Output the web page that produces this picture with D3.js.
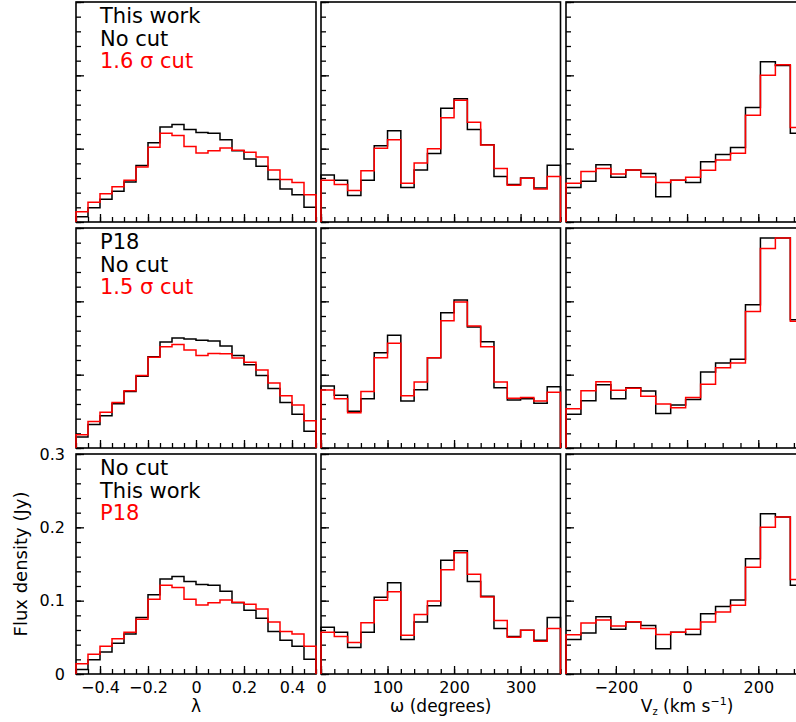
<!DOCTYPE html>
<html lang="en">
<head>
  <meta charset="utf-8">
  <title>Flux density histograms</title>
  <script src="https://d3js.org/d3.v7.min.js"></script>
  <style>
    body { margin: 0; background: #fff; }
    svg { display: block; font-family: "DejaVu Sans", sans-serif; }
  </style>
</head>
<body>
<script>
// bin edges of the three x quantities
var lamEdges = [-0.5, -0.45, -0.4, -0.35, -0.3, -0.25, -0.2, -0.15, -0.1, -0.05, 0,
                0.05, 0.1, 0.15, 0.2, 0.25, 0.3, 0.35, 0.4, 0.45, 0.5];
var omEdges = [0, 20, 40, 60, 80, 100, 120, 140, 160, 180, 200, 220, 240, 260, 280, 300, 320, 340, 360];
var vzEdges = [-340, -298, -256, -214, -172, -130, -88, -46, -4, 38, 80, 122, 164, 206, 248, 290, 332];

// tick labels
var lamTicks = [-0.4, -0.2, 0, 0.2, 0.4];
var omTicks = [0, 100, 200, 300];
var vzTicks = [-200, 0, 200];
var fluxTicks = [0, 0.1, 0.2, 0.3];

// top row : This work, no cut (black) vs 1.6 sigma cut (red)
var lamTwNoCut = [0.007, 0.0195, 0.031, 0.042, 0.0545, 0.077, 0.108, 0.1295, 0.133, 0.126, 0.122, 0.121, 0.112, 0.097, 0.086, 0.076, 0.058, 0.045, 0.037, 0.020];
var lamTwCut   = [0.014, 0.027, 0.0385, 0.048, 0.057, 0.075, 0.102, 0.121, 0.118, 0.103, 0.094, 0.097, 0.101, 0.098, 0.095, 0.0886, 0.071, 0.058, 0.054, 0.037];
var omTwNoCut  = [0.064, 0.057, 0.036, 0.057, 0.104, 0.1245, 0.047, 0.071, 0.0935, 0.155, 0.168, 0.126, 0.1055, 0.062, 0.051, 0.060, 0.0465, 0.0775];
var omTwCut    = [0.057, 0.051, 0.043, 0.070, 0.1005, 0.112, 0.0527, 0.0805, 0.100, 0.142, 0.166, 0.136, 0.105, 0.073, 0.050, 0.0595, 0.045, 0.062];
var vzTwNoCut  = [0.047, 0.0555, 0.078, 0.061, 0.071, 0.066, 0.0345, 0.057, 0.054, 0.082, 0.092, 0.1015, 0.156, 0.2186, 0.2135, 0.121];
var vzTwCut    = [0.053, 0.069, 0.073, 0.0655, 0.071, 0.0615, 0.054, 0.057, 0.061, 0.0705, 0.0845, 0.0936, 0.1455, 0.200, 0.2145, 0.129];

// middle row : P18, no cut (black) vs 1.5 sigma cut (red)
var lamP18NoCut = [0.015, 0.032, 0.044, 0.0605, 0.077, 0.098, 0.1245, 0.1445, 0.150, 0.1486, 0.147, 0.146, 0.139, 0.126, 0.1136, 0.099, 0.081, 0.062, 0.046, 0.023];
var lamP18Cut   = [0.018, 0.036, 0.0486, 0.062, 0.078, 0.099, 0.1236, 0.138, 0.141, 0.1336, 0.126, 0.129, 0.1286, 0.1227, 0.117, 0.1064, 0.0886, 0.0714, 0.0586, 0.037];
var omP18NoCut  = [0.0845, 0.072, 0.050, 0.067, 0.130, 0.1536, 0.064, 0.0795, 0.123, 0.1845, 0.2018, 0.165, 0.145, 0.082, 0.0655, 0.067, 0.061, 0.0836];
var omP18Cut    = [0.079, 0.067, 0.048, 0.077, 0.123, 0.143, 0.0714, 0.090, 0.123, 0.1736, 0.199, 0.1664, 0.138, 0.090, 0.068, 0.069, 0.064, 0.076];
var vzP18NoCut  = [0.046, 0.0645, 0.0864, 0.067, 0.082, 0.0777, 0.047, 0.0586, 0.066, 0.1036, 0.116, 0.121, 0.1955, 0.2864, 0.2864, 0.175];
var vzP18Cut    = [0.0536, 0.078, 0.0905, 0.0786, 0.0814, 0.0705, 0.060, 0.055, 0.069, 0.087, 0.1095, 0.116, 0.186, 0.272, 0.2864, 0.173];

// bottom row : no cut, This work (black) vs P18 (red)
var lamNoCutTw  = [0.006, 0.0195, 0.030, 0.042, 0.0545, 0.077, 0.108, 0.1295, 0.133, 0.126, 0.122, 0.121, 0.113, 0.097, 0.087, 0.076, 0.058, 0.046, 0.038, 0.020];
var lamNoCutP18 = [0.014, 0.027, 0.038, 0.048, 0.057, 0.0745, 0.102, 0.121, 0.118, 0.102, 0.094, 0.097, 0.101, 0.098, 0.095, 0.0886, 0.071, 0.058, 0.0545, 0.038];
var omNoCutTw   = [0.0636, 0.057, 0.036, 0.057, 0.1045, 0.1245, 0.047, 0.071, 0.093, 0.155, 0.168, 0.126, 0.106, 0.062, 0.051, 0.0595, 0.046, 0.077];
var omNoCutP18  = [0.057, 0.051, 0.043, 0.070, 0.1005, 0.112, 0.0527, 0.081, 0.0995, 0.142, 0.1655, 0.136, 0.105, 0.073, 0.050, 0.0595, 0.0445, 0.062];
var vzNoCutTw   = [0.047, 0.056, 0.078, 0.061, 0.071, 0.066, 0.0345, 0.057, 0.054, 0.082, 0.092, 0.101, 0.157, 0.2186, 0.214, 0.121];
var vzNoCutP18  = [0.0536, 0.0695, 0.0736, 0.0655, 0.0714, 0.062, 0.054, 0.057, 0.061, 0.071, 0.0845, 0.0936, 0.1455, 0.200, 0.214, 0.129];

// legend text per row
var rowLabels = [["This work", "No cut", "1.6 σ cut"],
                 ["P18", "No cut", "1.5 σ cut"],
                 ["No cut", "This work", "P18"]];
var labelColors = ["#000", "#000", "#ff0000"];

var w = 796, h = 722;
var colX = [76, 321, 566], colW = [240, 239.5, 240];
var rowY = [2, 228, 454], rowH = 220;

var svg = d3.select("body").append("svg")
  .attr("width", w)
  .attr("height", h);

var xScales = [
  d3.scaleLinear().domain([-0.5, 0.5]).range([colX[0], colX[0] + colW[0]]),
  d3.scaleLinear().domain([0, 360]).range([colX[1], colX[1] + colW[1]]),
  d3.scaleLinear().domain([-340, 334]).range([colX[2], colX[2] + colW[2]])
];
var edges = [lamEdges, omEdges, vzEdges];
var minorStep = [0.05, 20, 50];
var labelTicks = [lamTicks, omTicks, vzTicks];

var panels = [
  [[lamTwNoCut, lamTwCut], [omTwNoCut, omTwCut], [vzTwNoCut, vzTwCut]],
  [[lamP18NoCut, lamP18Cut], [omP18NoCut, omP18Cut], [vzP18NoCut, vzP18Cut]],
  [[lamNoCutTw, lamNoCutP18], [omNoCutTw, omNoCutP18], [vzNoCutTw, vzNoCutP18]]
];

var fmt = d3.format("~g");

var line = d3.line()
  .x(function(d) { return d[0]; })
  .y(function(d) { return d[1]; })
  .curve(d3.curveStepAfter);

// outline of a histogram that starts and ends on the zero line
function histPoints(x, y, e, v) {
  var pts = [[x(e[0]), y(0)]];
  v.forEach(function(val, i) { pts.push([x(e[i]), y(val)]); });
  pts.push([x(e[e.length - 1]), y(v[v.length - 1])]);
  pts.push([x(e[e.length - 1]), y(0)]);
  return pts;
}

for (var r = 0; r < 3; r++) {
  var y = d3.scaleLinear().domain([0, 0.3]).range([rowY[r] + rowH, rowY[r]]);

  for (var c = 0; c < 3; c++) {
    var x = xScales[c];
    var dom = x.domain();
    var g = svg.append("g");

    // frame
    g.append("rect")
      .attr("x", colX[c]).attr("y", rowY[r])
      .attr("width", colW[c]).attr("height", rowH)
      .attr("fill", "none").attr("stroke", "#000").attr("stroke-width", 1.6);

    // inward ticks, bottom
    var minor = d3.range(Math.ceil(dom[0] / minorStep[c]) * minorStep[c], dom[1] + 1e-9, minorStep[c]);
    [[minor, 5], [labelTicks[c], 8]].forEach(function(t) {
      var ax = g.append("g")
        .attr("transform", "translate(0," + (rowY[r] + rowH) + ")")
        .call(d3.axisBottom(x).tickValues(t[0]).tickSize(-t[1]).tickFormat(""));
      ax.select(".domain").remove();
      ax.selectAll("line").attr("stroke", "#000").attr("stroke-width", 1.3);
    });

    // inward ticks, left
    [[d3.range(0, 0.3001, 0.02), 5], [fluxTicks, 8]].forEach(function(t) {
      var ay = g.append("g")
        .attr("transform", "translate(" + colX[c] + ",0)")
        .call(d3.axisLeft(y).tickValues(t[0]).tickSize(-t[1]).tickFormat(""));
      ay.select(".domain").remove();
      ay.selectAll("line").attr("stroke", "#000").attr("stroke-width", 1.3);
    });

    // histograms, black then red on top
    var series = panels[r][c];
    g.append("path")
      .attr("d", line(histPoints(x, y, edges[c], series[0])))
      .attr("fill", "none").attr("stroke", "#000").attr("stroke-width", 1.5);
    g.append("path")
      .attr("d", line(histPoints(x, y, edges[c], series[1])))
      .attr("fill", "none").attr("stroke", "#ff0000").attr("stroke-width", 1.5);

    // x tick labels on bottom row
    if (r === 2) {
      var lx = g.append("g")
        .attr("transform", "translate(0," + (rowY[r] + rowH) + ")")
        .call(d3.axisBottom(x).tickValues(labelTicks[c]).tickSize(0).tickPadding(8).tickFormat(fmt));
      lx.select(".domain").remove();
      lx.selectAll("text")
        .attr("font-family", "DejaVu Sans, sans-serif")
        .attr("font-size", 16).attr("fill", "#000");
    }
    // y tick labels on bottom left panel
    if (r === 2 && c === 0) {
      var ly = g.append("g")
        .attr("transform", "translate(" + colX[c] + ",0)")
        .call(d3.axisLeft(y).tickValues(fluxTicks).tickSize(0).tickPadding(11).tickFormat(fmt));
      ly.select(".domain").remove();
      ly.selectAll("text")
        .attr("font-family", "DejaVu Sans, sans-serif")
        .attr("font-size", 16).attr("fill", "#000");
    }
  }

  // legend text in left panel
  rowLabels[r].forEach(function(t, i) {
    svg.append("text")
      .attr("x", 100)
      .attr("y", rowY[r] + 21 + i * 22.5)
      .attr("font-size", 21)
      .attr("fill", labelColors[i])
      .text(t);
  });
}

// axis titles
svg.append("text")
  .attr("x", xScales[0](0)).attr("y", 712)
  .attr("text-anchor", "middle").attr("font-size", 17)
  .text("λ");

svg.append("text")
  .attr("x", xScales[1](180)).attr("y", 712)
  .attr("text-anchor", "middle").attr("font-size", 17)
  .text("ω (degrees)");

var vzTitle = svg.append("text")
  .attr("x", xScales[2](0)).attr("y", 712)
  .attr("text-anchor", "middle").attr("font-size", 17);
vzTitle.append("tspan").text("V");
vzTitle.append("tspan").attr("font-size", 10).attr("dy", 3).text("z");
vzTitle.append("tspan").attr("dy", -3).text(" (km s");
vzTitle.append("tspan").attr("font-size", 11).attr("dy", -7).text("−1");
vzTitle.append("tspan").attr("dy", 7).text(")");

svg.append("text")
  .attr("transform", "translate(27," + (rowY[2] + rowH / 2) + ") rotate(-90)")
  .attr("text-anchor", "middle").attr("font-size", 18)
  .text("Flux density (Jy)");
</script>
</body>
</html>
